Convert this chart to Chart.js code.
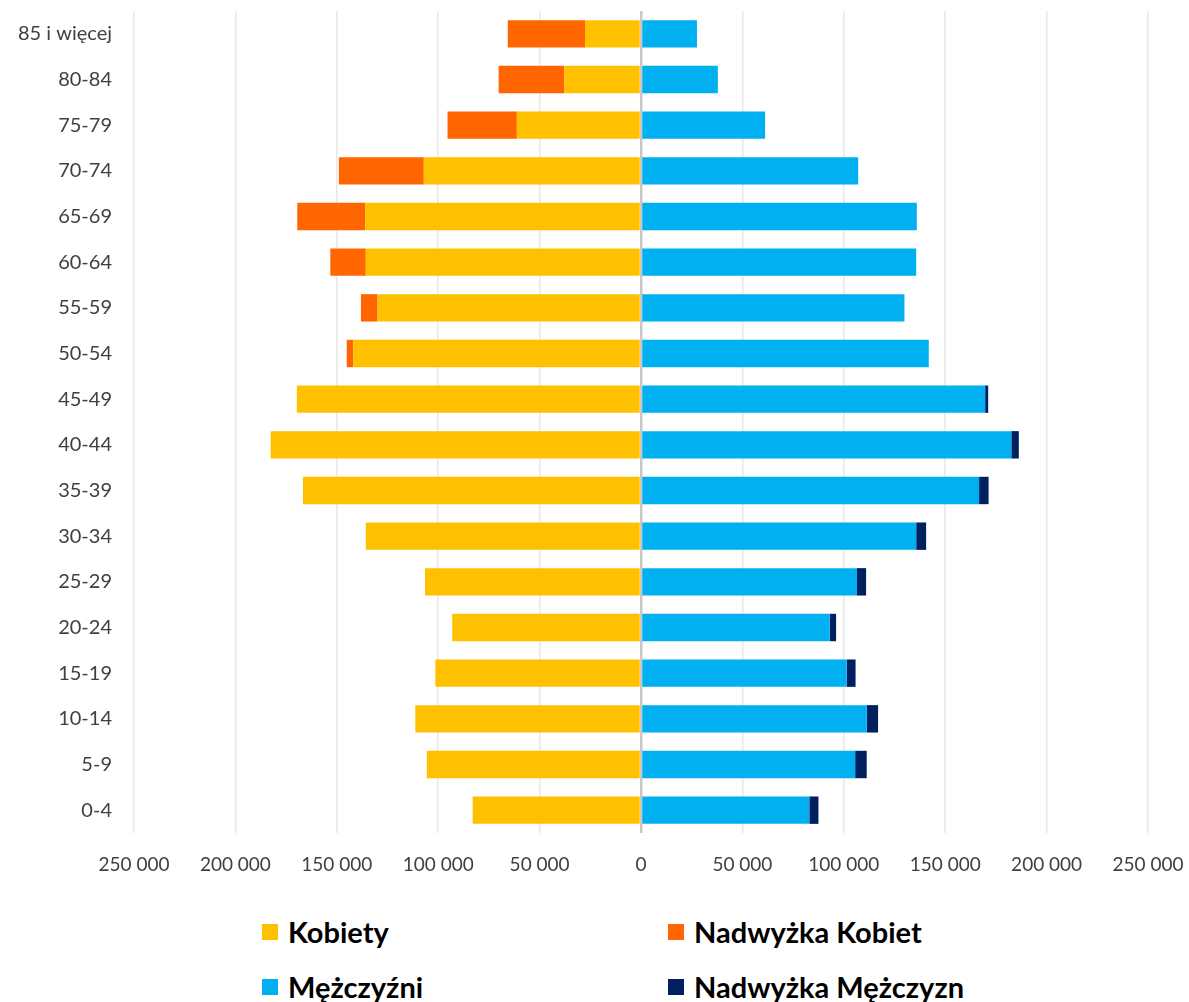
<!DOCTYPE html>
<html lang="pl">
<head>
<meta charset="utf-8">
<title>Piramida wieku</title>
<script src="https://cdn.jsdelivr.net/npm/chart.js@4.4.1/dist/chart.umd.min.js"></script>
<style>
    body { margin: 0; background: #ffffff; }
    .page { position: relative; width: 1189px; height: 1002px; overflow: hidden; }
    .chart-box { position: absolute; left: 0; top: 0; width: 1189px; height: 900px; }
    .legend {
        position: absolute; left: 262px; top: 904px;
        display: grid; grid-template-columns: 406px auto; grid-auto-rows: 55px;
        font-family: Lato, 'Open Sans', sans-serif; font-weight: bold; font-size: 29px; color: #000000;
    }
    .legend-item { display: flex; align-items: center; }
    .legend-box { width: 16px; height: 16px; margin-right: 10px; }
</style>
</head>
<body>
<div class="page">
    <div class="chart-box"><canvas id="pyramid"></canvas></div>
    <div class="legend" id="legend"></div>
</div>
<script>
const ageGroups = ['85 i więcej', '80-84', '75-79', '70-74', '65-69', '60-64', '55-59', '50-54', '45-49',
    '40-44', '35-39', '30-34', '25-29', '20-24', '15-19', '10-14', '5-9', '0-4'];

// kobiety i mężczyźni - część wspólna, nadwyżki osobno
const kobiety = [27600, 37900, 61200, 107100, 136000, 135700, 129900, 141900, 169700,
    182600, 166700, 135700, 106500, 93100, 101400, 111300, 105600, 83000];
const nadwyzkaKobiet = [38100, 32300, 34200, 41900, 33500, 17500, 8200, 3200, 0,
    0, 0, 0, 0, 0, 0, 0, 0, 0];
const mezczyzni = [27600, 37900, 61200, 107100, 136000, 135700, 129900, 141900, 169700,
    182600, 166700, 135700, 106500, 93100, 101400, 111300, 105600, 83000];
const nadwyzkaMezczyzn = [0, 0, 0, 0, 0, 0, 0, 0, 1500,
    3700, 4700, 4900, 4500, 3100, 4400, 5600, 5700, 4500];

const axisMin = -250000;
const axisMax = 250000;
const axisStep = 50000;

const seriesNames = ['Kobiety', 'Nadwyżka Kobiet', 'Mężczyźni', 'Nadwyżka Mężczyzn'];
const seriesColors = ['#FFC000', '#FF6600', '#00B0F0', '#002060'];

function formatThousands(value) {
    return String(Math.abs(value)).replace(/\B(?=(\d{3})+(?!\d))/g, ' ');
}

function buildDataset(index, values, negative) {
    return {
        label: seriesNames[index],
        data: values.map(v => negative ? -v : v),
        backgroundColor: seriesColors[index],
        borderWidth: 0,
        stack: 'pop',
        categoryPercentage: 0.6,
        barPercentage: 1
    };
}

const chart = new Chart(document.getElementById('pyramid'), {
    type: 'bar',
    data: {
        labels: ageGroups,
        datasets: [
            buildDataset(0, kobiety, true),
            buildDataset(1, nadwyzkaKobiet, true),
            buildDataset(2, mezczyzni, false),
            buildDataset(3, nadwyzkaMezczyzn, false)
        ]
    },
    options: {
        indexAxis: 'y',
        responsive: true,
        maintainAspectRatio: false,
        animation: false,
        layout: {
            padding: { top: 11, right: 41, bottom: 0, left: 0 }
        },
        plugins: {
            legend: { display: false },
            tooltip: { enabled: false }
        },
        scales: {
            x: {
                stacked: true,
                min: axisMin,
                max: axisMax,
                border: { display: false },
                grid: {
                    drawTicks: false,
                    color: ctx => ctx.tick && ctx.tick.value === 0 ? '#c8c8c8' : '#e8e8e8',
                    lineWidth: ctx => ctx.tick && ctx.tick.value === 0 ? 2.5 : 1.5
                },
                ticks: {
                    stepSize: axisStep,
                    padding: 20,
                    color: '#404040',
                    font: { family: 'Lato, "Open Sans", sans-serif', size: 19 },
                    callback: value => formatThousands(value)
                },
                afterFit: scale => {
                    scale.height = 67;
                    scale.paddingLeft = 0;
                    scale.paddingRight = 0;
                }
            },
            y: {
                stacked: true,
                border: { display: false },
                grid: { display: false, drawTicks: false },
                ticks: {
                    padding: 22,
                    color: '#404040',
                    font: { family: 'Lato, "Open Sans", sans-serif', size: 20 }
                },
                afterFit: scale => {
                    scale.width = 134;
                    scale.paddingTop = 0;
                    scale.paddingBottom = 0;
                }
            }
        }
    }
});

// legenda 2x2 jak w oryginale
const legendOrder = [0, 1, 2, 3];
const legendElement = document.getElementById('legend');
legendOrder.forEach((datasetIndex) => {
    const dataset = chart.data.datasets[datasetIndex];
    const item = document.createElement('div');
    item.className = 'legend-item';
    const box = document.createElement('span');
    box.className = 'legend-box';
    box.style.background = dataset.backgroundColor;
    const text = document.createElement('span');
    text.textContent = dataset.label;
    item.appendChild(box);
    item.appendChild(text);
    legendElement.appendChild(item);
});
</script>
</body>
</html>
